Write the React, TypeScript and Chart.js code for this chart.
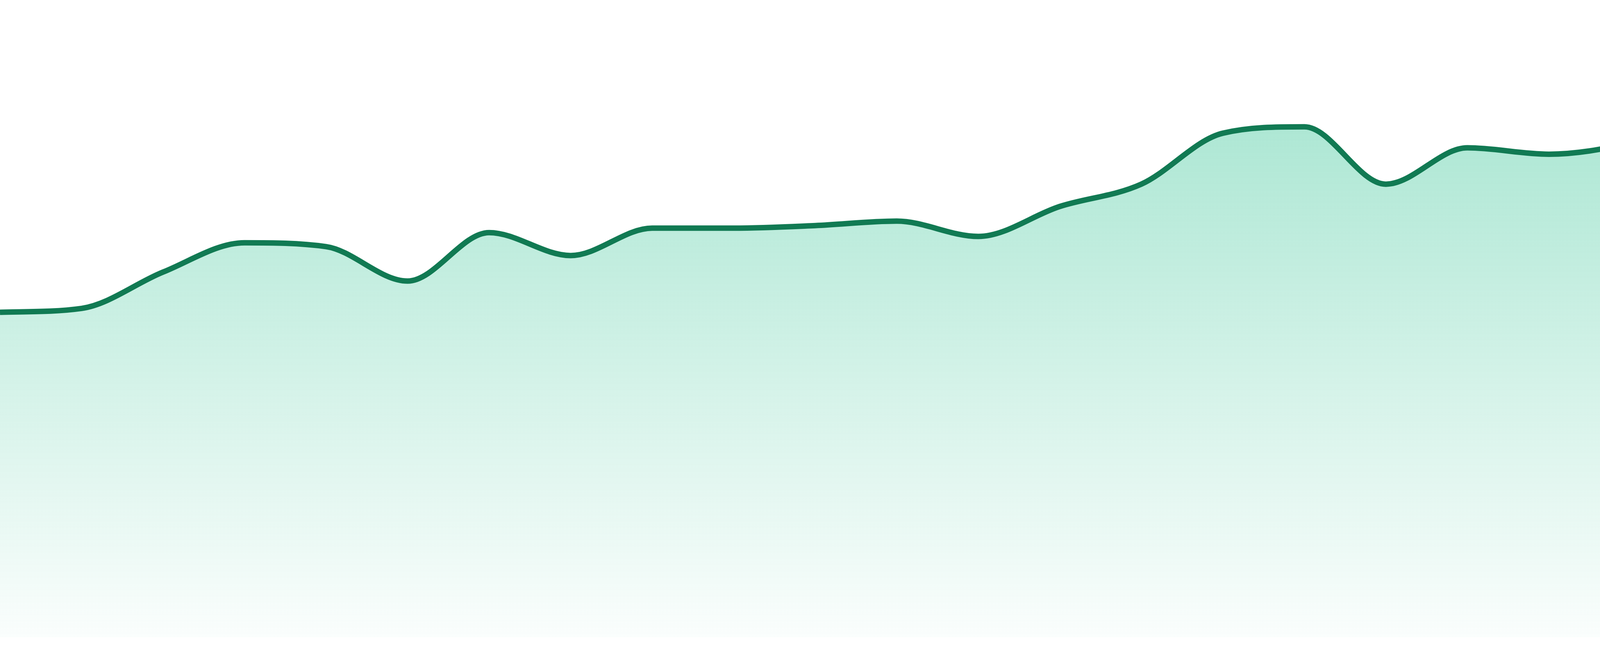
import React, { useEffect, useRef } from 'react';
import { Chart, registerables } from 'chart.js';

Chart.register(...registerables);

const periods = [
  'W1', 'W2', 'W3', 'W4', 'W5', 'W6', 'W7', 'W8', 'W9', 'W10', 'W11', 'W12',
  'W13', 'W14', 'W15', 'W16', 'W17', 'W18', 'W19', 'W20', 'W21', 'W22', 'W23', 'W24',
];

const values = [
  51.0, 51.6, 57.3, 61.9, 61.3, 55.9, 63.5, 59.9, 64.2, 64.2, 64.6, 65.3,
  62.9, 67.6, 71.1, 79.1, 80.1, 71.1, 76.8, 75.8, 77.5, 81.1, 85.3, 87.6,
];

const yMin = 0;
const yMax = 100;

const AreaChart: React.FC = () => {
  const canvasRef = useRef<HTMLCanvasElement>(null);

  useEffect(() => {
    const ctx = canvasRef.current?.getContext('2d');
    if (!ctx) return;

    const chart = new Chart(ctx, {
      type: 'line',
      data: {
        labels: periods,
        datasets: [
          {
            data: values,
            borderColor: '#117a53',
            borderWidth: 14,
            pointRadius: 0,
            pointHoverRadius: 0,
            cubicInterpolationMode: 'monotone',
            fill: 'start',
            backgroundColor: (context: any) => {
              const { ctx: c, chartArea } = context.chart;
              if (!chartArea) return 'rgba(16, 185, 129, 0.2)';
              // fades from mint under the line to almost white at the bottom
              const g = c.createLinearGradient(0, chartArea.top, 0, chartArea.bottom);
              g.addColorStop(0, 'rgba(16, 185, 129, 0.42)');
              g.addColorStop(1, 'rgba(16, 185, 129, 0.02)');
              return g;
            },
          },
        ],
      },
      options: {
        animation: false,
        responsive: true,
        maintainAspectRatio: false,
        layout: { padding: { top: 0, left: 0, right: 0, bottom: 48 } },
        plugins: {
          legend: { display: false },
          tooltip: { enabled: false },
        },
        scales: {
          x: { display: false },
          y: { display: false, min: yMin, max: yMax },
        },
      },
    });

    return () => {
      chart.destroy();
    };
  }, []);

  return (
    <div style={{ position: 'fixed', top: 0, left: 0, width: '4800px', height: '1680px', background: '#fff' }}>
      <canvas ref={canvasRef}></canvas>
    </div>
  );
};

export default function App() {
  return <AreaChart />;
}
